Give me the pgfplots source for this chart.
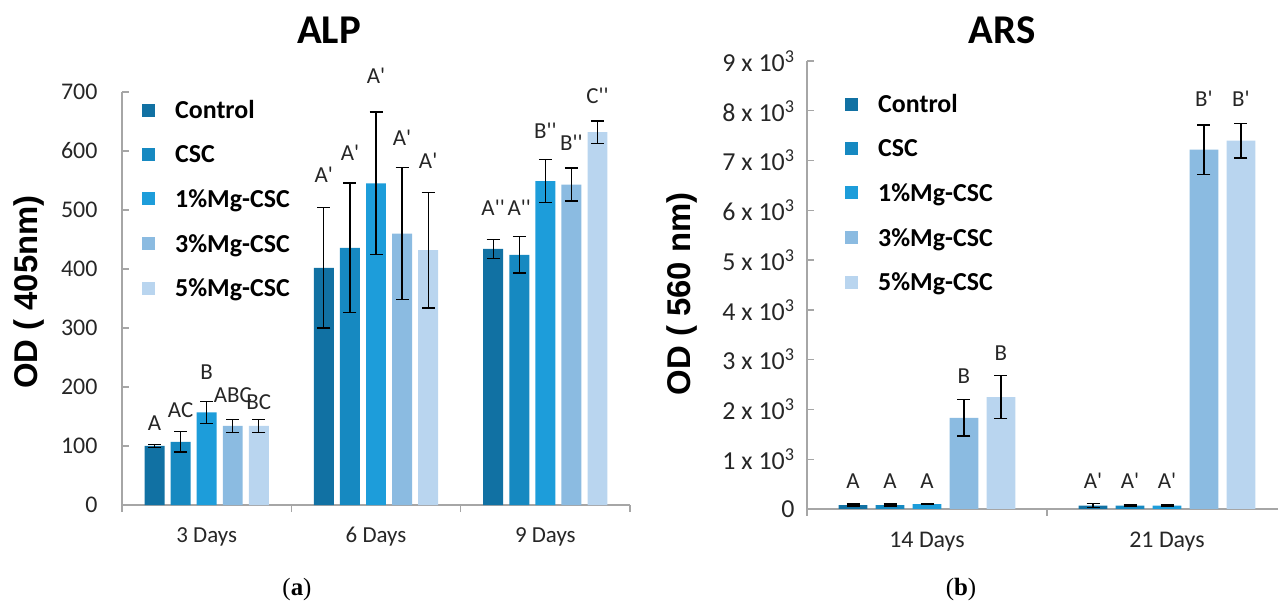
\documentclass[border=0pt]{standalone}
\usepackage{pgfplots}
\pgfplotsset{compat=1.18}
\usepackage{pgfplotstable}
\usepackage{fontspec}
\setmainfont{Carlito}[Ligatures=TeXOff]
\newfontfamily\arialb{Liberation Sans}[Ligatures=TeXOff]
\newfontfamily\serif{Liberation Serif}
\definecolor{c1}{HTML}{1171A3}
\definecolor{c2}{HTML}{1689C1}
\definecolor{c3}{HTML}{1D9DDA}
\definecolor{c4}{HTML}{8BBBE1}
\definecolor{c5}{HTML}{B9D5EF}
\definecolor{axgray}{HTML}{A6A6A6}

% ALP (left)
\pgfplotstableread{
g v e ly lab
0 100 3 138 A
1 402 102 560 A'
2 434 16 503 A''
}\alpA
\pgfplotstableread{
g v e ly lab
0 107 17 161 AC
1 436 110 597 A'
2 424 31 503 A''
}\alpB
\pgfplotstableread{
g v e ly lab
0 157 19 225 B
1 545 121 727 A'
2 549 36 635 B''
}\alpC
\pgfplotstableread{
g v e ly lab
0 134 11 187 ABC
1 460 112 622 A'
2 543 28 614 B''
}\alpD
\pgfplotstableread{
g v e ly lab
0 134 11 175 BC
1 432 98 584 A'
2 632 19 694 C''
}\alpE

% ARS (right)
\pgfplotstableread{
g v e ly lab
0 80 20 566 A
1 70 40 566 A'
}\arsA
\pgfplotstableread{
g v e ly lab
0 80 20 566 A
1 67 15 566 A'
}\arsB
\pgfplotstableread{
g v e ly lab
0 100 15 566 A
1 67 15 566 A'
}\arsC
\pgfplotstableread{
g v e ly lab
0 1830 363 2675 B
1 7219 495 8237 B'
}\arsD
\pgfplotstableread{
g v e ly lab
0 2249 435 3127 B
1 7398 349 8237 B'
}\arsE

\pgfplotsset{
  barplot/.style={ybar, bar shift=0pt, fill=#1, draw=none,
    error bars/.cd, y dir=both, y explicit,
    error bar style={black, line width=1.3bp},
    error mark options={black, line width=1.3bp, mark size=6.5bp, rotate=90}},
  labplot/.style={forget plot, only marks, mark=none,
    nodes near coords={\fontsize{23}{23}\selectfont\pgfplotspointmeta},
    point meta=explicit symbolic,
    every node near coord/.append style={anchor=center, inner sep=0pt, text=black!85}},
  common/.style={
    scale only axis,
    axis x line*=bottom, axis y line*=left,
    axis line style={-, draw=axgray, line width=1.5bp},
    tick style={draw=axgray, line width=1.3bp},
    major tick length=7bp,
    tick align=outside,
    ytick style={xshift=7bp},
    clip=false,
    legend cell align=left,
    legend image code/.code={\fill[##1] (0bp,-6.5bp) rectangle (13bp,6.5bp);},
    legend style={draw=none, fill=none, at={(rel axis cs:0,1)}, anchor=north west,
      inner sep=0pt, row sep=21.5bp, column sep=18bp,
      font=\bfseries\fontsize{26}{26}\selectfont},
  },
}

\begin{document}
\begin{tikzpicture}
\useasboundingbox (0,0) rectangle (1278bp,607bp);

% ---------- ALP ----------
\begin{axis}[common,
  at={(122bp,102bp)}, anchor=south west,
  width=508bp, height=413bp,
  xmin=-0.5, xmax=2.5, ymin=0, ymax=700,
  ytick={0,100,...,700},
  /pgf/number format/assume math mode=true,
  yticklabel style={font=\fontsize{24}{24}\selectfont, text=black!85, xshift=-14bp},
  xtick={-0.5,0.5,1.5,2.5}, xticklabels={,,,},
  extra x ticks={0,1,2}, extra x tick labels={3 Days,6 Days,9 Days},
  extra x tick style={major tick length=0pt,
    xticklabel style={font=\fontsize{23}{23}\selectfont, text=black!85, anchor=center, yshift=-32bp}},
  bar width=0.118,
  legend style={xshift=20bp, yshift=-6bp},
]
\addplot[barplot=c1] table[x expr=\thisrow{g}-0.308, y=v, y error=e] \alpA;
\addplot[barplot=c2] table[x expr=\thisrow{g}-0.154, y=v, y error=e] \alpB;
\addplot[barplot=c3] table[x expr=\thisrow{g}, y=v, y error=e] \alpC;
\addplot[barplot=c4] table[x expr=\thisrow{g}+0.154, y=v, y error=e] \alpD;
\addplot[barplot=c5] table[x expr=\thisrow{g}+0.308, y=v, y error=e] \alpE;
\legend{Control,CSC,1\%Mg-CSC,3\%Mg-CSC,5\%Mg-CSC}
\addplot[labplot] table[x expr=\thisrow{g}-0.308, y=ly, meta=lab] \alpA;
\addplot[labplot] table[x expr=\thisrow{g}-0.154, y=ly, meta=lab] \alpB;
\addplot[labplot] table[x expr=\thisrow{g}, y=ly, meta=lab] \alpC;
\addplot[labplot] table[x expr=\thisrow{g}+0.154, y=ly, meta=lab] \alpD;
\addplot[labplot] table[x expr=\thisrow{g}+0.308, y=ly, meta=lab] \alpE;
\end{axis}

% ---------- ARS ----------
\begin{axis}[common,
  at={(807bp,98bp)}, anchor=south west,
  width=471bp, height=448bp,
  xmin=-0.5, xmax=1.4625, ymin=0, ymax=9000,
  ytick={0,1000,...,9000},
  yticklabels={0,1 x 10\textsuperscript{3},2 x 10\textsuperscript{3},3 x 10\textsuperscript{3},4 x 10\textsuperscript{3},5 x 10\textsuperscript{3},6 x 10\textsuperscript{3},7 x 10\textsuperscript{3},8 x 10\textsuperscript{3},9 x 10\textsuperscript{3}},
  yticklabel style={font=\fontsize{26}{26}\selectfont, text=black!85, xshift=-2bp},
  xtick={-0.5,0.5}, xticklabels={,},
  extra x ticks={0,1}, extra x tick labels={14 Days,21 Days},
  extra x tick style={major tick length=0pt,
    xticklabel style={font=\fontsize{24}{24}\selectfont, text=black!85, anchor=center, yshift=-33bp}},
  bar width=0.12,
  legend style={xshift=38bp, yshift=-31bp},
]
\addplot[barplot=c1] table[x expr=\thisrow{g}-0.308, y=v, y error=e] \arsA;
\addplot[barplot=c2] table[x expr=\thisrow{g}-0.154, y=v, y error=e] \arsB;
\addplot[barplot=c3] table[x expr=\thisrow{g}, y=v, y error=e] \arsC;
\addplot[barplot=c4] table[x expr=\thisrow{g}+0.154, y=v, y error=e] \arsD;
\addplot[barplot=c5] table[x expr=\thisrow{g}+0.308, y=v, y error=e] \arsE;
\legend{Control,CSC,1\%Mg-CSC,3\%Mg-CSC,5\%Mg-CSC}
\addplot[labplot] table[x expr=\thisrow{g}-0.308, y=ly, meta=lab] \arsA;
\addplot[labplot] table[x expr=\thisrow{g}-0.154, y=ly, meta=lab] \arsB;
\addplot[labplot] table[x expr=\thisrow{g}, y=ly, meta=lab] \arsC;
\addplot[labplot] table[x expr=\thisrow{g}+0.154, y=ly, meta=lab] \arsD;
\addplot[labplot] table[x expr=\thisrow{g}+0.308, y=ly, meta=lab] \arsE;
\end{axis}

% titles and labels
\node[font=\bfseries\fontsize{41}{41}\selectfont] at (329bp,577bp) {ALP};
\node[font=\bfseries\fontsize{41}{41}\selectfont] at (1002bp,577bp) {ARS};
\node[rotate=90, font=\arialb\bfseries\fontsize{33}{33}\selectfont] at (29bp,315bp) {OD ( 405nm)};
\node[rotate=90, font=\arialb\bfseries\fontsize{33}{33}\selectfont] at (682bp,313bp) {OD ( 560 nm)};
\node[font=\serif\fontsize{25}{25}\selectfont] at (297bp,17bp) {(\textbf{a})};
\node[font=\serif\fontsize{25}{25}\selectfont] at (961bp,17bp) {(\textbf{b})};
\end{tikzpicture}
\end{document}
